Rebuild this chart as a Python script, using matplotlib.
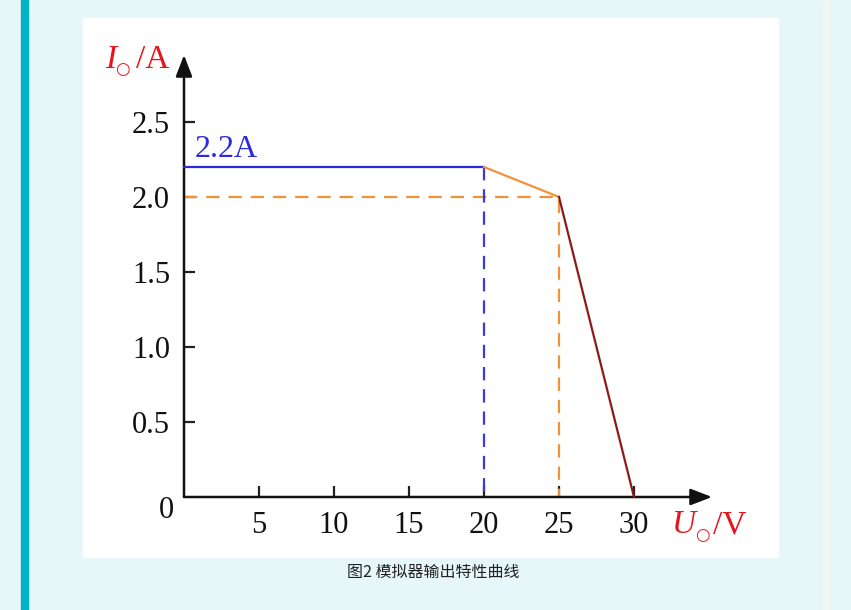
import matplotlib
matplotlib.use("Agg")
import matplotlib.pyplot as plt
from matplotlib.patches import Rectangle

# ---- data ----
x_ticks = [5, 10, 15, 20, 25, 30]
y_ticks = [0.5, 1.0, 1.5, 2.0, 2.5]
y_tick_labels = ["0.5", "1.0", "1.5", "2.0", "2.5"]

cc_x = [0, 20]            # constant-current segment (blue)
cc_y = [2.2, 2.2]
knee_x = [20, 25]         # orange slope
knee_y = [2.2, 2.0]
drop_x = [25, 30]         # dark red fall-off
drop_y = [2.0, 0.0]
guide_blue_x = [20, 20]
guide_blue_y = [2.2, 0.0]
guide_orange_x = [0, 25, 25]
guide_orange_y = [2.0, 2.0, 0.0]
cc_label = "2.2A"
caption = "图2 模拟器输出特性曲线"

W, H = 851, 610
fig = plt.figure(figsize=(W / 100, H / 100), dpi=100)
fig.patch.set_facecolor("#e6f6f9")

def fx(px):
    return px / W

def fy(py):
    return 1 - py / H

# teal bar, right strip and white panel
fig.add_artist(Rectangle((fx(21), 0), fx(7), 1, transform=fig.transFigure,
                         color="#00b4c8", zorder=0))
fig.add_artist(Rectangle((fx(823), 0), fx(6), 1, transform=fig.transFigure,
                         color="#f3f4f4", zorder=0))
fig.add_artist(Rectangle((fx(83), fy(557)), fx(778 - 83), (557 - 18) / H,
                         transform=fig.transFigure, color="white", zorder=0))

# axes: origin at pixel (184, 497); 15 px per V, 150 px per A
x0, y0 = 184, 497
x_right, y_top = 712, 55
ax = fig.add_axes([fx(x0), fy(y0), fx(x_right - x0), (y0 - y_top) / H])
ax.set_xlim(0, (x_right - x0) / 15)
ax.set_ylim(0, (y0 - y_top) / 150)
ax.patch.set_alpha(0)
for s in ax.spines.values():
    s.set_visible(False)

serif = ["Liberation Serif", "DejaVu Serif"]

ax.set_xticks(x_ticks)
ax.set_xticklabels([str(v) for v in x_ticks], fontfamily=serif, fontsize=22)
ax.set_yticks(y_ticks)
ax.set_yticklabels(y_tick_labels, fontfamily=serif, fontsize=22)
ax.tick_params(direction="in", length=8, width=1.6, color="#222222",
               labelcolor="#111111")
ax.tick_params(axis="x", pad=10)
ax.tick_params(axis="y", pad=10)

# axes arrows
xmax = ax.get_xlim()[1]
ymax = ax.get_ylim()[1]
arr = dict(arrowstyle="-|>,head_length=0.65,head_width=0.25", color="#111111",
           lw=1.8, shrinkA=0, shrinkB=0, mutation_scale=20)
ax.annotate("", xy=(xmax, 0), xytext=(0, 0), arrowprops=arr, annotation_clip=False)
ax.annotate("", xy=(0, ymax), xytext=(0, 0), arrowprops=arr, annotation_clip=False)

# curves
ax.plot(guide_orange_x, guide_orange_y, color="#f0923a", lw=1.6,
        dashes=(6, 4), clip_on=False, zorder=2)
ax.plot(guide_blue_x, guide_blue_y, color="#3a3ae0", lw=1.6,
        dashes=(6, 4), clip_on=False, zorder=2)
ax.plot(cc_x, cc_y, color="#2b2bdc", lw=1.6, clip_on=False, zorder=3)
ax.plot(knee_x, knee_y, color="#f0923a", lw=1.6, clip_on=False, zorder=3)
ax.plot(drop_x, drop_y, color="#8b1a1a", lw=1.6, clip_on=False, zorder=3)

ax.text(0.7, 2.22, cc_label, color="#2b2bdc", fontfamily=serif, fontsize=23,
        ha="left", va="bottom")

# origin label
ax.text(-1.15, -0.09, "0", fontfamily=serif, fontsize=22, color="#111111",
        ha="center", va="center")

# axis titles (I○ /A, U○ /V)
red = "#e8141c"
fig.text(fx(105), fy(68), "I", color=red, fontfamily=serif, fontstyle="italic",
         fontsize=24, ha="left", va="baseline")
fig.text(fx(115), fy(74), "○", color=red, fontfamily=["DejaVu Sans"],
         fontsize=12, ha="left", va="baseline")
fig.text(fx(136), fy(68), "/A", color=red, fontfamily=serif,
         fontsize=24, ha="left", va="baseline")

fig.text(fx(672), fy(533), "U", color=red, fontfamily=serif, fontstyle="italic",
         fontsize=24, ha="left", va="baseline")
fig.text(fx(695), fy(540), "○", color=red, fontfamily=["DejaVu Sans"],
         fontsize=12, ha="left", va="baseline")
fig.text(fx(713), fy(533), "/V", color=red, fontfamily=serif,
         fontsize=24, ha="left", va="baseline")

fig.text(fx(433), fy(572), caption, fontfamily=["Noto Sans CJK SC", "DejaVu Sans"],
         fontsize=11.5, color="#222222", ha="center", va="center")

fig.savefig("out.png", dpi=100, facecolor=fig.get_facecolor())
